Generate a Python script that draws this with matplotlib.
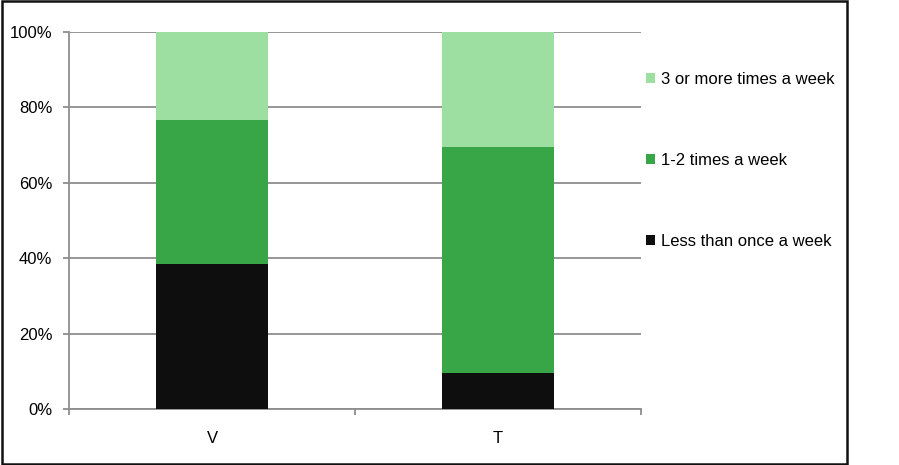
import matplotlib

matplotlib.use("Agg")
import matplotlib.pyplot as plt
from matplotlib.patches import Rectangle
from matplotlib.ticker import PercentFormatter

plt.rcParams["font.family"] = ["Liberation Sans", "DejaVu Sans"]

categories = ["V", "T"]
series_names = ["Less than once a week", "1-2 times a week", "3 or more times a week"]
less_than_once = [38.5, 9.5]
one_two_times = [38.2, 60.0]
three_or_more = [23.3, 30.5]

COLORS = ["#0e0e0e", "#38a546", "#9ddfa0"]
GRID = "#8e8e8e"

fig = plt.figure(figsize=(8.99, 4.65), dpi=100)
ax = fig.add_axes([69 / 899, 56 / 465, 572 / 899, 377 / 465])

x = list(range(len(categories)))
bottom = [0.0] * len(categories)
handles = []
for name, vals, color in zip(series_names, [less_than_once, one_two_times, three_or_more], COLORS):
    h = ax.bar(x, vals, width=0.395, bottom=bottom, color=color, label=name, zorder=3)
    handles.append(h)
    bottom = [b + v for b, v in zip(bottom, vals)]

ax.set_xlim(-0.5, len(categories) - 0.5)
ax.set_ylim(0, 100)
ax.set_yticks([0, 20, 40, 60, 80, 100])
ax.yaxis.set_major_formatter(PercentFormatter(decimals=0))
ax.set_xticks(x)
ax.set_xticklabels(categories)
ax.set_xticks([-0.5, 0.5, 1.5], minor=True)

ax.grid(axis="y", color=GRID, lw=1.3, zorder=0)
ax.set_axisbelow(True)
for side in ("top", "right"):
    ax.spines[side].set_visible(False)
for side in ("left", "bottom"):
    ax.spines[side].set_color(GRID)
    ax.spines[side].set_linewidth(1.3)

ax.tick_params(axis="y", length=4, width=1.3, color=GRID, pad=8, labelsize=12)
ax.tick_params(axis="x", which="major", length=0, pad=16, labelsize=12)
ax.tick_params(axis="x", which="minor", length=4, width=1.3, color=GRID)

fig.legend(
    handles[::-1], series_names[::-1],
    loc="upper left", bbox_to_anchor=(646 / 899, 1 - 72 / 465),
    frameon=False, fontsize=12, handlelength=0.55, handleheight=0.55,
    handletextpad=0.35, labelspacing=3.95, borderpad=0, borderaxespad=0,
)

# outer frame around the chart
fig.patches.append(Rectangle((1.5 / 899, 1.5 / 465), 845 / 899, 462 / 465,
                             transform=fig.transFigure, fill=False,
                             edgecolor="#111111", lw=1.8))

fig.savefig("out.png", dpi=100)
